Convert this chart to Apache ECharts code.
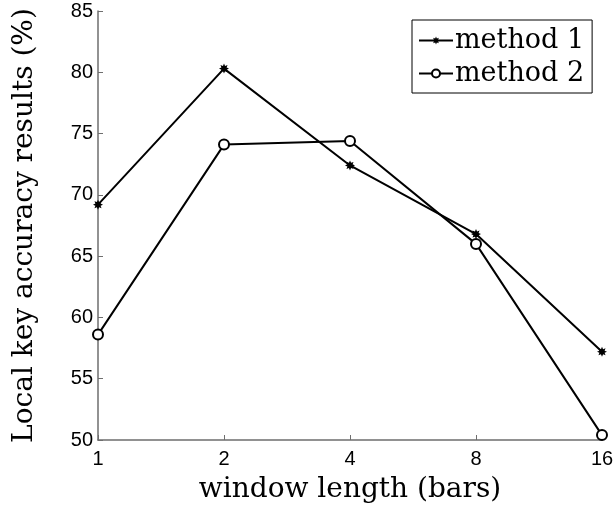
<!DOCTYPE html>
<html>
<head>
<meta charset="utf-8">
<script src="https://cdn.jsdelivr.net/npm/echarts@6/dist/echarts.min.js"></script>
<style>
  html, body { margin: 0; padding: 0; background: #fff; }
  #chart { width: 615px; height: 506px; }
</style>
</head>
<body>
<div id="chart"></div>
<script>
// Window lengths (bars), evenly spaced on a log2 scale
const windowLengths = ['1', '2', '4', '8', '16'];
// Local key accuracy (%) for each method
const method1 = [69.2, 80.3, 72.4, 66.8, 57.2];
const method2 = [58.6, 74.1, 74.4, 66.0, 50.4];
const seriesNames = ['method 1', 'method 2'];

const serif = 'DejaVu Serif';
const sans = 'Liberation Sans';
const axisGray = '#6e6e6e';

// Eight-pointed asterisk-like marker
function starPath(n, rOut, rIn) {
  let d = '';
  for (let i = 0; i < n * 2; i++) {
    const r = i % 2 === 0 ? rOut : rIn;
    const a = Math.PI * i / n;
    const x = (r * Math.sin(a)).toFixed(3);
    const y = (-r * Math.cos(a)).toFixed(3);
    d += (i === 0 ? 'M' : 'L') + x + ',' + y;
  }
  return 'path://' + d + 'Z';
}

const chart = echarts.init(document.getElementById('chart'), null, { renderer: 'canvas' });
chart.setOption({
  animation: false,
  backgroundColor: '#fff',
  grid: { left: 98, right: 13, top: 11, bottom: 66, containLabel: false, outerBoundsMode: 'none' },
  legend: {
    orient: 'vertical',
    left: 412,
    top: 20,
    padding: [4, 8, 3, 6],
    itemGap: 0,
    itemWidth: 34,
    itemHeight: 10,
    borderColor: '#000',
    borderWidth: 1,
    backgroundColor: '#fff',
    textStyle: { fontFamily: serif, fontSize: 27, lineHeight: 33, color: '#000', padding: [0, 0, 0, -3] },
    data: seriesNames
  },
  xAxis: {
    type: 'category',
    data: windowLengths,
    boundaryGap: false,
    name: 'window length (bars)',
    nameLocation: 'middle',
    nameGap: 36,
    nameTextStyle: { fontFamily: serif, fontSize: 28, color: '#000' },
    axisLine: { lineStyle: { color: axisGray, width: 1.5 } },
    axisTick: { inside: true, length: 5, alignWithLabel: true, lineStyle: { color: axisGray } },
    axisLabel: { fontFamily: sans, fontSize: 20, color: '#000', margin: 9 },
    splitLine: { show: false }
  },
  yAxis: {
    type: 'value',
    min: 50,
    max: 85,
    interval: 5,
    name: 'Local key accuracy results (%)',
    nameLocation: 'middle',
    nameGap: 59,
    nameTextStyle: { fontFamily: serif, fontSize: 28, color: '#000' },
    axisLine: { show: true, lineStyle: { color: axisGray, width: 1.5 } },
    axisTick: { show: true, inside: true, length: 5, lineStyle: { color: axisGray } },
    axisLabel: { fontFamily: sans, fontSize: 20, color: '#000', margin: 5 },
    splitLine: { show: false }
  },
  series: [
    {
      name: seriesNames[0],
      type: 'line',
      data: method1,
      symbol: starPath(8, 5, 2.8),
      symbolSize: 10,
      showAllSymbol: true,
      lineStyle: { color: '#000', width: 2 },
      itemStyle: { color: '#000', borderWidth: 0 }
    },
    {
      name: seriesNames[1],
      type: 'line',
      data: method2,
      symbol: 'circle',
      symbolSize: 10,
      showAllSymbol: true,
      lineStyle: { color: '#000', width: 2 },
      itemStyle: { color: '#fff', borderColor: '#000', borderWidth: 2 }
    }
  ]
});
</script>
</body>
</html>
